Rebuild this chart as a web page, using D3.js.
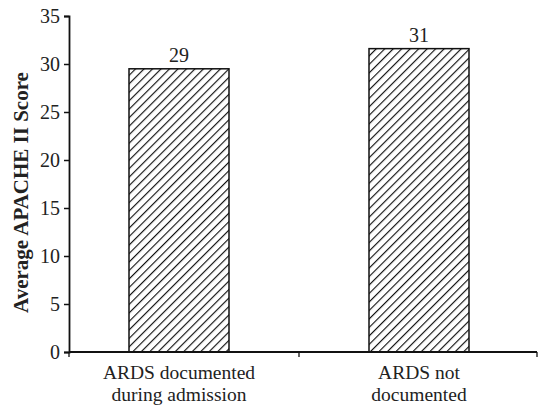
<!DOCTYPE html>
<html><head><meta charset="utf-8">
<script src="https://cdn.jsdelivr.net/npm/d3@7/dist/d3.min.js"></script>
<style>body{margin:0;background:#fff}</style>
</head><body>
<script>
const categories = [["ARDS documented","during admission"],["ARDS not","documented"]];
const values = [29.5, 31.6];
const valueLabels = ["29","31"];
const yTicks = [0,5,10,15,20,25,30,35];
const yTitle = "Average APACHE II Score";

const W=538,H=411;
const svg=d3.select("body").append("svg").attr("width",W).attr("height",H);
const defs=svg.append("defs");
const pat=defs.append("pattern").attr("id","hatch").attr("patternUnits","userSpaceOnUse")
  .attr("width",6).attr("height",6).attr("patternTransform","rotate(45)");
pat.append("rect").attr("width",6).attr("height",6).attr("fill","#fff");
pat.append("line").attr("x1",0).attr("y1",0).attr("x2",0).attr("y2",6).attr("stroke","#111").attr("stroke-width",2.3);

const x0=69,x1=537,yTop=16,yBot=352;
const x=d3.scaleBand().domain(d3.range(categories.length)).range([59,539]).padding(0);
const y=d3.scaleLinear().domain([0,35]).range([yBot,yTop]);
const barW=100;
const font="'Liberation Serif','Times New Roman',serif";
const fs=20;

// bars
svg.selectAll("rect.bar").data(values).enter().append("rect")
  .attr("x",(d,i)=>x(i)+x.bandwidth()/2-barW/2).attr("width",barW)
  .attr("y",d=>y(d)).attr("height",d=>y(0)-y(d))
  .attr("fill","url(#hatch)").attr("stroke","#111").attr("stroke-width",1.5);

// value labels
svg.selectAll("text.val").data(values).enter().append("text")
  .attr("x",(d,i)=>x(i)+x.bandwidth()/2).attr("y",d=>y(d)-7)
  .attr("text-anchor","middle").attr("font-family",font).attr("font-size",fs).attr("fill","#222")
  .text((d,i)=>valueLabels[i]);

// y axis
const yAxis=svg.append("g").attr("transform",`translate(${x0},0)`)
  .call(d3.axisLeft(y).tickValues(yTicks).tickSize(5).tickPadding(4));
yAxis.select(".domain").attr("stroke","#111").attr("stroke-width",1.8);
yAxis.selectAll(".tick line").attr("stroke","#111").attr("stroke-width",1.5);
yAxis.selectAll(".tick text").attr("font-family",font).attr("font-size",fs).attr("fill","#222");

// x axis line with boundary ticks
const xg=svg.append("g");
xg.append("line").attr("x1",x0).attr("x2",x1).attr("y1",y(0)).attr("y2",y(0)).attr("stroke","#111").attr("stroke-width",1.8);
const bounds=[x0, ...d3.range(1,categories.length).map(i=>x(i)), x1];
xg.selectAll("line.t").data(bounds).enter().append("line")
  .attr("x1",d=>d).attr("x2",d=>d).attr("y1",y(0)).attr("y2",y(0)+5).attr("stroke","#111").attr("stroke-width",1.3);

// category labels
categories.forEach((lines,i)=>{
  lines.forEach((ln,j)=>svg.append("text").attr("text-anchor","middle").attr("font-family",font)
    .attr("font-size",19.5).attr("fill","#222")
    .attr("x",x(i)+x.bandwidth()/2).attr("y",379+j*22).text(ln));
});

// y title
svg.append("text").attr("transform",`translate(28,${(67+318)/2}) rotate(-90)`)
  .attr("text-anchor","middle").attr("font-family",font).attr("font-size",21).attr("font-weight","bold").attr("fill","#222")
  .text(yTitle);
</script>
</body></html>
